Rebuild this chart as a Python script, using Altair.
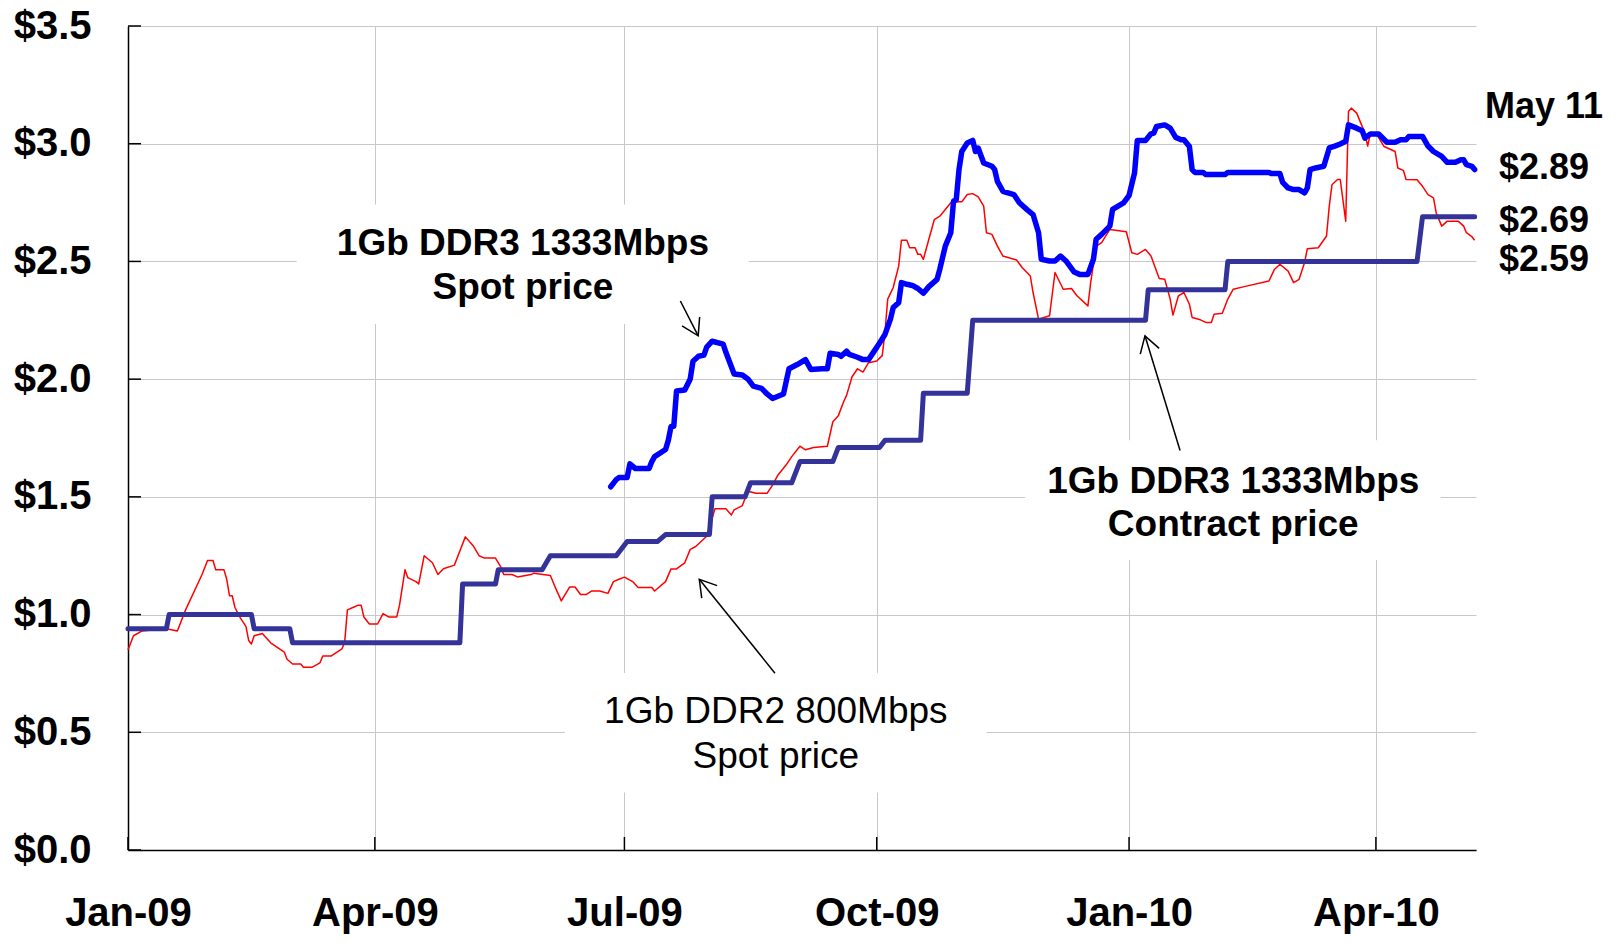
import math
import altair as alt
import pandas as pd

FONT = "Liberation Sans, Arial, sans-serif"
BASE = pd.Timestamp("2009-01-01")

# ---- 1Gb DDR2 800Mbps spot price (red): days since 2009-01-01, price in $
ddr2_days = [0, 2, 5, 14, 18, 21, 27, 29, 31, 32, 35, 36, 37, 38, 39, 41, 43, 44, 45, 46,
             49, 52, 57, 58, 60, 63, 64, 67, 70, 71, 74, 78, 79, 80, 82, 84, 85, 86, 88, 91,
             93, 95, 98, 99, 101, 102, 105, 106, 108, 111, 113, 115, 119, 121, 123, 126, 128, 130, 134, 136,
             137, 140, 142, 147, 148, 154, 156, 158, 161, 163, 165, 167, 169, 172, 175, 177, 179, 181, 184, 186,
             191, 192, 196, 198, 200, 203, 205, 207, 211, 214, 218, 220, 221, 224, 226, 229, 233, 235, 237, 240,
             242, 245, 247, 250, 255, 257, 259, 261, 262, 264, 266, 268, 270, 273, 275, 276, 277, 279, 281, 282,
             284, 285, 287, 288, 289, 290, 292, 294, 296, 300, 303, 304, 306, 308, 310, 312, 313, 315, 317, 319,
             324, 326, 329, 330, 332, 336, 338, 341, 344, 346, 350, 351, 353, 355, 358, 364, 366, 368, 371, 373,
             376, 378, 380, 381, 383, 385, 387, 388, 391, 393, 395, 396, 399, 401, 403, 407, 416, 418, 420, 423,
             425, 427, 429, 430, 434, 437, 438, 439, 441, 442, 444, 445, 446, 448, 451, 452, 453, 455, 458, 462,
             463, 465, 466, 470, 472, 474, 476, 477, 479, 481, 485, 487, 488, 490, 491]
ddr2_price = [0.85, 0.91, 0.93, 0.94, 0.93, 1.02, 1.17, 1.23, 1.23, 1.19, 1.19, 1.15, 1.08, 1.08, 1.03, 0.985, 0.95, 0.89, 0.875, 0.91,
              0.92, 0.88, 0.84, 0.81, 0.79, 0.79, 0.776, 0.776, 0.795, 0.824, 0.824, 0.854, 0.883, 1.02, 1.03, 1.04, 1.04, 0.99, 0.96, 0.96,
              1.004, 0.99, 0.99, 1.04, 1.19, 1.157, 1.14, 1.13, 1.25, 1.22, 1.17, 1.195, 1.21, 1.27, 1.33, 1.29, 1.25, 1.24, 1.24, 1.20,
              1.17, 1.17, 1.16, 1.17, 1.176, 1.166, 1.11, 1.058, 1.117, 1.117, 1.085, 1.085, 1.10, 1.10, 1.09, 1.14, 1.15, 1.159, 1.14, 1.115,
              1.115, 1.10, 1.14, 1.194, 1.194, 1.22, 1.277, 1.289, 1.333, 1.449, 1.449, 1.423, 1.445, 1.463, 1.524, 1.515, 1.515, 1.55, 1.593, 1.636,
              1.671, 1.715, 1.70, 1.71, 1.715, 1.819, 1.845, 1.906, 1.931, 2.01, 2.044, 2.03, 2.07, 2.077, 2.10, 2.198, 2.34, 2.389, 2.48, 2.59,
              2.59, 2.558, 2.558, 2.53, 2.53, 2.509, 2.594, 2.678, 2.692, 2.749, 2.753, 2.753, 2.784, 2.788, 2.774, 2.735, 2.622, 2.615, 2.565, 2.523,
              2.506, 2.474, 2.438, 2.368, 2.255, 2.269, 2.453, 2.382, 2.385, 2.354, 2.311, 2.41, 2.565, 2.58, 2.636, 2.626, 2.537, 2.53, 2.551, 2.523,
              2.427, 2.424, 2.34, 2.272, 2.354, 2.368, 2.318, 2.262, 2.252, 2.241, 2.241, 2.276, 2.28, 2.34, 2.382, 2.393, 2.417, 2.466, 2.488, 2.459,
              2.41, 2.424, 2.495, 2.554, 2.558, 2.608, 2.735, 2.826, 2.848, 2.848, 2.671, 3.137, 3.151, 3.13, 3.045, 2.99, 3.045, 3.045, 2.988, 2.967,
              2.897, 2.887, 2.848, 2.847, 2.819, 2.784, 2.77, 2.706, 2.65, 2.671, 2.671, 2.65, 2.622, 2.605, 2.59]

# ---- 1Gb DDR3 1333Mbps spot price (blue)
ddr3_spot_days = [176, 178, 179, 182, 183, 185, 190, 191, 192, 196, 197, 198, 199, 200, 203, 205, 206, 208, 210, 211,
                  213, 217, 218, 221, 224, 226, 228, 231, 233, 235, 239, 241, 244, 247, 249, 253, 255, 256, 259, 260,
                  262, 263, 266, 268, 270, 273, 276, 278, 279, 281, 282, 284, 286, 288, 290, 292, 295, 296, 298, 300,
                  301, 302, 303, 304, 306, 308, 309, 310, 312, 315, 316, 317, 319, 323, 325, 328, 330, 332, 333, 336,
                  338, 340, 342, 345, 347, 350, 352, 353, 355, 358, 359, 363, 365, 367, 368, 371, 373, 374, 375, 378,
                  380, 382, 384, 385, 387, 388, 389, 392, 393, 400, 401, 416, 417, 420, 421, 423, 425, 427, 429, 430,
                  431, 433, 436, 438, 440, 442, 444, 445, 448, 450, 451, 453, 456, 459, 462, 464, 466, 467, 472, 474,
                  476, 479, 481, 484, 486, 487, 488, 490, 491]
ddr3_spot_price = [1.543, 1.573, 1.582, 1.582, 1.64, 1.62, 1.62, 1.65, 1.671, 1.701, 1.74, 1.799, 1.80, 1.95, 1.954, 2.001, 2.076, 2.097, 2.102, 2.136,
                   2.161, 2.149, 2.114, 2.022, 2.018, 2.001, 1.97, 1.961, 1.937, 1.918, 1.937, 2.044, 2.062, 2.083, 2.041, 2.044, 2.044, 2.11, 2.105, 2.097,
                   2.119, 2.105, 2.093, 2.083, 2.083, 2.135, 2.19, 2.255, 2.304, 2.325, 2.41, 2.403, 2.398, 2.385, 2.365, 2.393, 2.424, 2.467, 2.565, 2.622,
                   2.756, 2.763, 2.89, 2.967, 3.003, 3.014, 2.967, 2.981, 2.918, 2.904, 2.89, 2.84, 2.798, 2.784, 2.749, 2.718, 2.699, 2.622, 2.509, 2.502,
                   2.502, 2.523, 2.502, 2.455, 2.445, 2.445, 2.509, 2.594, 2.615, 2.65, 2.721, 2.749, 2.78, 2.876, 3.014, 3.014, 3.042, 3.045, 3.073, 3.08,
                   3.066, 3.027, 3.017, 3.017, 2.988, 2.89, 2.878, 2.878, 2.869, 2.869, 2.878, 2.878, 2.873, 2.873, 2.836, 2.812, 2.805, 2.805, 2.791, 2.812,
                   2.89, 2.897, 2.904, 2.982, 2.99, 2.999, 3.01, 3.08, 3.066, 3.055, 3.024, 3.041, 3.041, 3.006, 3.006, 3.017, 3.017, 3.031, 3.031, 2.99,
                   2.967, 2.946, 2.921, 2.921, 2.932, 2.932, 2.911, 2.904, 2.89]

# ---- 1Gb DDR3 1333Mbps contract price (navy step line): vertices
contract_days = [0, 14, 15, 45, 46, 59, 60, 121, 122, 134, 135, 151, 154, 178, 182, 193, 196, 212, 213, 225,
                 227, 242, 245, 257, 259, 274, 276, 289, 290, 306, 308, 371, 372, 400, 401, 470, 472, 491]
contract_price = [0.94, 0.94, 1.00, 1.00, 0.94, 0.94, 0.88, 0.88, 1.13, 1.13, 1.19, 1.19, 1.25, 1.25, 1.31, 1.31, 1.34, 1.34, 1.50, 1.50,
                  1.56, 1.56, 1.65, 1.65, 1.71, 1.71, 1.74, 1.74, 1.94, 1.94, 2.25, 2.25, 2.38, 2.38, 2.50, 2.50, 2.69, 2.69]

# ---- axes
x_tick_dates = [(2009, 1), (2009, 4), (2009, 7), (2009, 10), (2010, 1), (2010, 4)]
y_tick_values = [0.0, 0.5, 1.0, 1.5, 2.0, 2.5, 3.0, 3.5]
x_end_days = 491.5

# ---- annotations
bold_label_text = ["1Gb DDR3 1333Mbps", "Spot price", "1Gb DDR3 1333Mbps", "Contract price"]
bold_label_days = [144, 144, 403, 403]
bold_label_y = [2.526, 2.340, 1.518, 1.333]
plain_label_text = ["1Gb DDR2 800Mbps", "Spot price"]
plain_label_days = [236.2, 236.2]
plain_label_y = [0.540, 0.350]
end_label_text = ["May 11", "$2.89", "$2.69", "$2.59"]
end_label_days = [516.3, 516.3, 516.3, 516.3]
end_label_y = [3.109, 2.852, 2.626, 2.459]

box_day0 = [61.5, 327.1, 159.3]
box_day1 = [226.4, 478.6, 313.1]
box_y0 = [2.234, 1.232, 0.244]
box_y1 = [2.742, 1.740, 0.752]

arrow_day0 = [201.4, 383.6, 235.9]
arrow_y0 = [2.332, 1.697, 0.751]
arrow_day1 = [207.9, 370.8, 208.3]
arrow_y1 = [2.184, 2.184, 1.150]

W, H = 1348, 824
Y_MAX = 3.5


def to_dates(days):
    return BASE + pd.to_timedelta(pd.Series(days, dtype=float), unit="D")


red = pd.DataFrame({"date": to_dates(ddr2_days), "price": ddr2_price})
blue = pd.DataFrame({"date": to_dates(ddr3_spot_days), "price": ddr3_spot_price})
navy = pd.DataFrame({"date": to_dates(contract_days), "price": contract_price})

x_scale = alt.Scale(domain=[alt.DateTime(year=2009, month=1, date=1),
                            alt.DateTime(year=2010, month=5, date=7, hours=12)])
y_scale = alt.Scale(domain=[0, Y_MAX], nice=False, zero=True)

x_axis = alt.Axis(
    values=[alt.DateTime(year=y, month=m, date=1) for y, m in x_tick_dates],
    format="%b-%y", title=None,
    labelFont=FONT, labelFontWeight="bold", labelFontSize=40, labelColor="black",
    labelPadding=43, labelFlush=False, labelOverlap=False, labelBound=False,
    ticks=False, tickSize=0,
    domainColor="black", domainWidth=1.5,
    grid=True, gridColor="#c8c8c8", gridWidth=1,
)
y_axis = alt.Axis(
    values=y_tick_values, format="$.1f", title=None,
    labelFont=FONT, labelFontWeight="bold", labelFontSize=40, labelColor="black",
    labelPadding=37, labelOverlap=False,
    ticks=False, tickSize=0,
    domainColor="black", domainWidth=1.5,
    grid=True, gridColor="#c8c8c8", gridWidth=1,
)


def XE(f):
    return alt.X(f, scale=x_scale, axis=x_axis, title=None)


def YE(f):
    return alt.Y(f, scale=y_scale, axis=y_axis, title=None)


# white boxes behind annotation text (cover gridlines)
boxes = pd.DataFrame({"d0": to_dates(box_day0), "d1": to_dates(box_day1), "y0": box_y0, "y1": box_y1})
box_layer = alt.Chart(boxes).mark_rect(color="white").encode(
    x=XE("d0:T"), x2="d1:T", y=YE("y0:Q"), y2="y1:Q")

red_layer = alt.Chart(red).mark_line(color="#ff0000", strokeWidth=1.5, strokeJoin="round").encode(
    x=XE("date:T"), y=YE("price:Q"))
navy_layer = alt.Chart(navy).mark_line(color="#333399", strokeWidth=5, strokeJoin="round",
                                       strokeCap="round").encode(
    x=XE("date:T"), y=YE("price:Q"))
blue_layer = alt.Chart(blue).mark_line(color="#0000ff", strokeWidth=5.5, strokeJoin="round",
                                       strokeCap="round").encode(
    x=XE("date:T"), y=YE("price:Q"))

# inward tick marks
yt = pd.DataFrame({"v": y_tick_values})
ytick_layer = alt.Chart(yt).mark_rule(color="black", strokeWidth=1.5).encode(
    y=YE("v:Q"), x=alt.value(0), x2=alt.value(13))
xt = pd.DataFrame({"d": [pd.Timestamp(year=y, month=m, day=1) for y, m in x_tick_dates]})
xtick_layer = alt.Chart(xt).mark_rule(color="black", strokeWidth=1.5).encode(
    x=XE("d:T"), y=alt.value(H), y2=alt.value(H - 13))

# arrows
px_day = W / x_end_days
px_val = H / Y_MAX
angles = []
for a0, b0, a1, b1 in zip(arrow_day0, arrow_y0, arrow_day1, arrow_y1):
    dx = (a1 - a0) * px_day
    dy = -(b1 - b0) * px_val
    angles.append(math.degrees(math.atan2(dx, -dy)) % 360)
arrows = pd.DataFrame({"d0": to_dates(arrow_day0), "y0": arrow_y0,
                       "d1": to_dates(arrow_day1), "y1": arrow_y1, "ang": angles})
arrow_lines = alt.Chart(arrows).mark_rule(color="black", strokeWidth=1.5).encode(
    x=XE("d0:T"), y=YE("y0:Q"), x2="d1:T", y2="y1:Q")
arrow_heads = alt.Chart(arrows).mark_point(
    shape="M -0.52 0.85 L 0 0 L 0.52 0.85", filled=False, color="black",
    strokeWidth=1.5, size=1444, opacity=1).encode(
    x=XE("d1:T"), y=YE("y1:Q"), angle=alt.Angle("ang:Q", scale=None))

# text labels
bold_df = pd.DataFrame({"d": to_dates(bold_label_days), "y": bold_label_y, "t": bold_label_text})
bold_layer = alt.Chart(bold_df).mark_text(
    font=FONT, fontSize=37, fontWeight="bold", align="center", baseline="alphabetic", color="black").encode(
    x=XE("d:T"), y=YE("y:Q"), text="t:N")
plain_df = pd.DataFrame({"d": to_dates(plain_label_days), "y": plain_label_y, "t": plain_label_text})
plain_layer = alt.Chart(plain_df).mark_text(
    font=FONT, fontSize=37, fontWeight="normal", align="center", baseline="alphabetic", color="black").encode(
    x=XE("d:T"), y=YE("y:Q"), text="t:N")
end_df = pd.DataFrame({"d": to_dates(end_label_days), "y": end_label_y, "t": end_label_text})
end_layer = alt.Chart(end_df).mark_text(
    font=FONT, fontSize=36, fontWeight="bold", align="center", baseline="alphabetic", color="black").encode(
    x=XE("d:T"), y=YE("y:Q"), text="t:N")

chart = alt.layer(
    box_layer, red_layer, navy_layer, blue_layer, ytick_layer, xtick_layer,
    arrow_lines, arrow_heads, bold_layer, plain_layer, end_layer,
).properties(
    width=W, height=H,
    autosize=alt.AutoSizeParams(type="none"),
    padding={"left": 120, "top": 18, "right": 134, "bottom": 85},
    background="white",
).configure_view(stroke=None)

chart.save("out.html", embed_options={"renderer": "svg", "actions": False})
